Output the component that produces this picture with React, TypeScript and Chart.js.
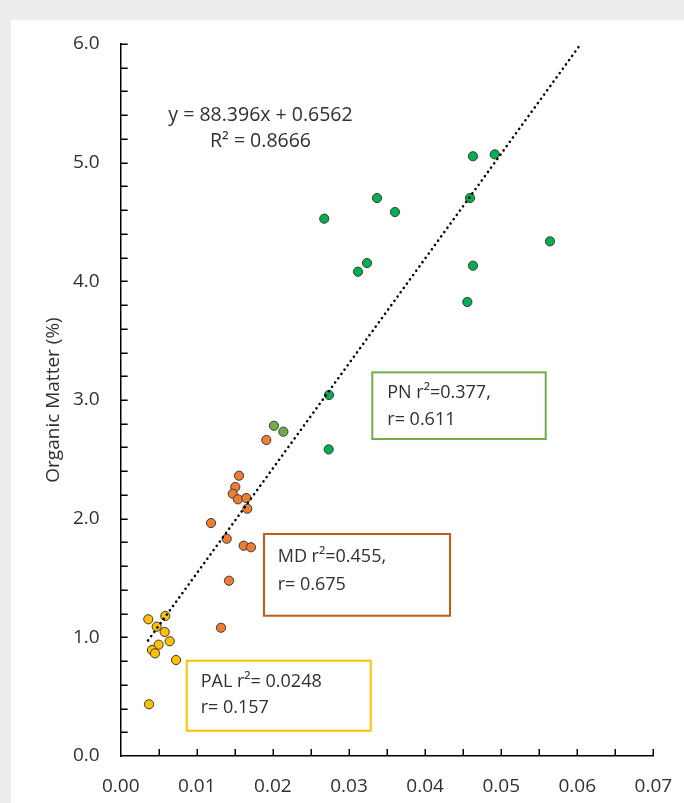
import React, { useEffect, useRef } from "react";
import { Chart, registerables } from "chart.js";

Chart.register(...registerables);

// ---- Data ----
const pnX = [0.02675, 0.03368, 0.03604, 0.04629, 0.04915, 0.0459, 0.05641, 0.03237, 0.03118, 0.04629, 0.04555, 0.02733, 0.02737];
const pnY = [4.528, 4.702, 4.584, 5.054, 5.07, 4.702, 4.337, 4.154, 4.081, 4.132, 3.826, 2.584, 3.042];

const pnLightX = [0.02014, 0.02137];
const pnLightY = [2.783, 2.733];

const mdX = [0.01913, 0.01555, 0.01506, 0.01472, 0.01541, 0.0165, 0.01664, 0.01187, 0.01393, 0.01616, 0.01712, 0.01423, 0.01318];
const mdY = [2.663, 2.362, 2.267, 2.21, 2.163, 2.174, 2.084, 1.963, 1.831, 1.772, 1.759, 1.477, 1.081];

const palX = [0.00363, 0.00586, 0.00473, 0.00578, 0.00644, 0.00499, 0.00411, 0.00451, 0.00727, 0.00372];
const palY = [1.152, 1.18, 1.09, 1.045, 0.967, 0.938, 0.893, 0.865, 0.809, 0.436];

// Trendline y = 88.396x + 0.6562
const trendSlope = 88.396;
const trendIntercept = 0.6562;
const trendX = [0.0036, 0.06045];

const xTicks = { min: 0, max: 0.07, step: 0.01, minorStep: 0.005 };
const yTicks = { min: 0, max: 6, step: 1, minorStep: 0.2 };

const yTitle = "Organic Matter (%)";
const eqLines = ["y = 88.396x + 0.6562", "R² = 0.8666"];

const boxPN = ["PN r²=0.377,", "r= 0.611"];
const boxMD = ["MD r²=0.455,", "r= 0.675"];
const boxPAL = ["PAL r²= 0.0248", "r= 0.157"];

const FONT = "'Open Sans', 'DejaVu Sans', sans-serif";
const TEXT = "#303030";

const toPts = (xs: number[], ys: number[]) => xs.map((x, i) => ({ x, y: ys[i] }));

const overlayPlugin = {
  id: "overlay",
  afterDraw(chart: any) {
    const ctx = chart.ctx as CanvasRenderingContext2D;
    const xs = chart.scales.x;
    const ys = chart.scales.y;
    const X = (v: number) => xs.getPixelForValue(v);
    const Y = (v: number) => ys.getPixelForValue(v);
    const { left, bottom } = chart.chartArea;

    // inward tick marks
    ctx.save();
    ctx.strokeStyle = "#000";
    ctx.lineWidth = 1.5;
    ctx.beginPath();
    const nX = Math.round((xTicks.max - xTicks.min) / xTicks.minorStep);
    for (let i = 1; i <= nX; i++) {
      const px = Math.round(X(xTicks.min + i * xTicks.minorStep)) + 0.25;
      ctx.moveTo(px, bottom);
      ctx.lineTo(px, bottom - 7);
    }
    const nY = Math.round((yTicks.max - yTicks.min) / yTicks.minorStep);
    for (let i = 0; i < nY; i++) {
      const py = Math.round(Y(yTicks.max - i * yTicks.minorStep)) + 0.25;
      ctx.moveTo(left, py);
      ctx.lineTo(left + 7, py);
    }
    ctx.stroke();
    ctx.restore();

    // equation
    ctx.save();
    ctx.fillStyle = TEXT;
    ctx.font = `19.5px ${FONT}`;
    ctx.textAlign = "center";
    ctx.textBaseline = "middle";
    ctx.fillText(eqLines[0], X(0.01837), Y(5.4));
    ctx.fillText(eqLines[1], X(0.01837), Y(5.177));
    ctx.restore();

    const drawBox = (
      lines: string[],
      color: string,
      x0: number, x1: number, y0: number, y1: number,
      tx: number, ty1: number, ty2: number
    ) => {
      ctx.save();
      ctx.strokeStyle = color;
      ctx.lineWidth = 2;
      const l = X(x0), r = X(x1), t = Y(y0), b = Y(y1);
      ctx.strokeRect(l, t, r - l, b - t);
      ctx.fillStyle = TEXT;
      ctx.font = `18px ${FONT}`;
      ctx.textAlign = "left";
      ctx.textBaseline = "middle";
      ctx.fillText(lines[0], X(tx), Y(ty1));
      ctx.fillText(lines[1], X(tx), Y(ty2));
      ctx.restore();
    };
    drawBox(boxPN, "#70ad47", 0.03306, 0.05585, 3.233, 2.671, 0.03503, 3.061, 2.831);
    drawBox(boxMD, "#c55a11", 0.01883, 0.04327, 1.871, 1.182, 0.02063, 1.679, 1.441);
    drawBox(boxPAL, "#ffc000", 0.00867, 0.03285, 0.803, 0.213, 0.01051, 0.626, 0.402);
  },
};

export default function App() {
  const ref = useRef<HTMLCanvasElement | null>(null);

  useEffect(() => {
    if (!ref.current) return;
    const pointStyle = (color: string) => ({
      backgroundColor: color,
      borderColor: "#3a3a3a",
      borderWidth: 1,
      pointRadius: 4.6,
      pointHoverRadius: 4.6,
    });
    const chart = new Chart(ref.current, {
      type: "scatter",
      data: {
        datasets: [
          {
            label: "Trend",
            data: trendX.map((x) => ({ x, y: trendSlope * x + trendIntercept })),
            showLine: true,
            borderColor: "#000",
            borderWidth: 2.6,
            borderDash: [0.01, 5.3],
            borderCapStyle: "round",
            pointRadius: 0,
            backgroundColor: "#000",
          } as any,
          { label: "PN", data: toPts(pnX, pnY), ...pointStyle("#00b050") },
          { label: "PN2", data: toPts(pnLightX, pnLightY), ...pointStyle("#70ad47") },
          { label: "MD", data: toPts(mdX, mdY), ...pointStyle("#ed7d31") },
          { label: "PAL", data: toPts(palX, palY), ...pointStyle("#ffc000") },
        ],
      },
      options: {
        responsive: false,
        animation: false,
        events: [],
        layout: { padding: { left: 0, top: 44, right: 30.6, bottom: 0 } },
        plugins: {
          legend: { display: false },
          tooltip: { enabled: false },
        },
        scales: {
          x: {
            type: "linear",
            min: xTicks.min,
            max: xTicks.max,
            grid: { display: false, drawTicks: false },
            border: { display: true, color: "#000", width: 1.5 },
            ticks: {
              stepSize: xTicks.step,
              padding: 19,
              color: TEXT,
              font: { family: FONT, size: 19 },
              callback: (v: any) => Number(v).toFixed(2),
              maxRotation: 0,
            },
            afterFit: (s: any) => {
              s.height = 47;
              s.paddingLeft = 0;
              s.paddingRight = 0;
              s.paddingTop = 0;
              s.paddingBottom = 0;
            },
          },
          y: {
            type: "linear",
            min: yTicks.min,
            max: yTicks.max,
            grid: { display: false, drawTicks: false },
            border: { display: true, color: "#000", width: 1.5 },
            ticks: {
              stepSize: yTicks.step,
              padding: 21,
              color: TEXT,
              font: { family: FONT, size: 19 },
              callback: (v: any) => Number(v).toFixed(1),
            },
            title: {
              display: true,
              text: yTitle,
              color: TEXT,
              font: { family: FONT, size: 19 },
              padding: { top: 42.6, bottom: 0 },
            },
            afterFit: (s: any) => {
              s.width = 120.7;
              s.paddingLeft = 0;
              s.paddingRight = 0;
              s.paddingTop = 0;
              s.paddingBottom = 0;
            },
          },
        },
      } as any,
      plugins: [overlayPlugin],
    });
    return () => chart.destroy();
  }, []);

  return (
    <div
      style={{
        position: "fixed",
        left: 0,
        top: 0,
        width: 684,
        height: 803,
        background: "#ededed",
        overflow: "hidden",
      }}
    >
      <div
        style={{
          position: "absolute",
          left: 11,
          top: 20,
          width: 673,
          height: 783,
          background: "#ffffff",
        }}
      />
      <canvas
        ref={ref}
        width={684}
        height={803}
        style={{ position: "absolute", left: 0, top: 0, width: 684, height: 803 }}
      />
    </div>
  );
}
